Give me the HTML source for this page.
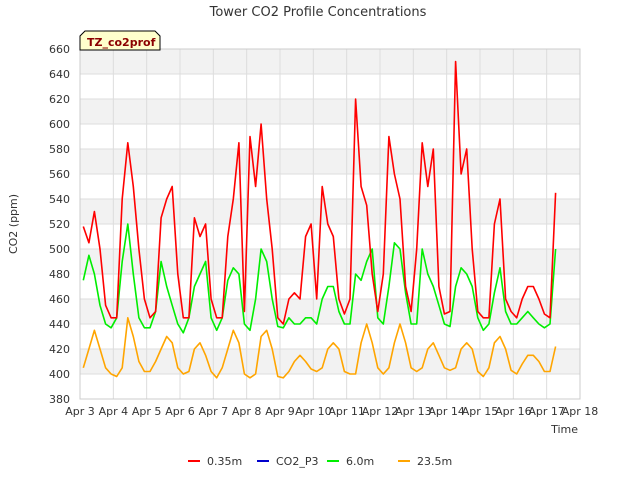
<!DOCTYPE html>
<html><head><meta charset="utf-8"><style>
body{margin:0;background:#fff;font-family:"DejaVu Sans","Liberation Sans",sans-serif;}
svg text{font-family:"DejaVu Sans","Liberation Sans",sans-serif;}
</style></head><body>
<svg id="c" width="640" height="480">
<text x="318" y="16" font-size="13" fill="#333" text-anchor="middle">Tower CO2 Profile Concentrations</text>
<text transform="translate(17,224) rotate(-90)" font-size="11" fill="#333" text-anchor="middle">CO2 (ppm)</text>
<text x="578" y="433" font-size="11" fill="#333" text-anchor="end">Time</text>
<g id="grid"></g><g id="series"></g>
<g>
<path d="M80,50 L80,36 L85,31 L155,31 L160,36 L160,50 Z" fill="#ffffcc" stroke="#000" stroke-width="1"/>
<text x="87" y="46" font-size="11" font-weight="bold" fill="#8b0000">TZ_co2prof</text></g>
<g id="legend"></g>
</svg>
<script>
const yTicks=[380,400,420,440,460,480,500,520,540,560,580,600,620,640,660];
const xLabels=["Apr 3","Apr 4","Apr 5","Apr 6","Apr 7","Apr 8","Apr 9","Apr 10","Apr 11","Apr 12","Apr 13","Apr 14","Apr 15","Apr 16","Apr 17","Apr 18"];
const seriesNames=["0.35m","CO2_P3","6.0m","23.5m"];
const seriesColors=["#ff0000","#0000cc","#00ee00","#ffa500"];
const red=[518,505,530,500,455,445, 445,540,585,550,500,460, 445,450,525,540,550,480, 445,445,525,510,520,460, 445,445,510,540,585,450, 590,550,600,540,500,445, 440,460,465,460,510,520, 460,550,520,510,460,448, 460,620,550,535,480,450, 480,590,560,540,470,450, 500,585,550,580,470,448, 450,650,560,580,500,450, 445,445,520,540,460,450, 445,460,470,470,460,448, 445,545];
const p3=[];
const green=[475,495,480,455,440,437, 445,490,520,480,445,437, 437,450,490,470,455,440, 433,445,470,480,490,445, 435,445,475,485,480,440, 435,460,500,490,460,438, 437,445,440,440,445,445, 440,460,470,470,450,440, 440,480,475,490,500,445, 440,470,505,500,465,440, 440,500,480,470,455,440, 438,470,485,480,470,445, 435,440,465,485,450,440, 440,445,450,445,440,437, 440,500];
const orange=[405,420,435,420,405,400, 398,405,445,430,410,402, 402,410,420,430,425,405, 400,402,420,425,415,402, 397,405,420,435,425,400, 397,400,430,435,420,398, 397,402,410,415,410,404, 402,405,420,425,420,402, 400,400,425,440,425,405, 400,405,425,440,425,405, 402,405,420,425,415,405, 403,405,420,425,420,402, 398,405,425,430,420,403, 400,408,415,415,410,402, 402,422];
const NS="http://www.w3.org/2000/svg";
const X0=80,X1=580,Y0=399,Y1=49;
const xs=d=>X0+d*(X1-X0)/15;
const ys=v=>Y0-(v-380)*(Y0-Y1)/280;
const g=document.getElementById('grid');
function mk(tag,at,p){const e=document.createElementNS(NS,tag);for(const k in at)e.setAttribute(k,at[k]);p.appendChild(e);return e;}
for(let i=0;i<yTicks.length-1;i++){ if(i%2===1){const r=mk('rect',{x:X0,y:ys(yTicks[i+1]),width:X1-X0,height:ys(yTicks[i])-ys(yTicks[i+1]),fill:'#f2f2f2'},g);

}}
yTicks.forEach(v=>{const l=mk('line',{x1:X0,x2:X1,y1:ys(v),y2:ys(v),stroke:'#ddd'},g);


const t=mk('text',{x:X0-10,y:ys(v)+4,'font-size':11,fill:'#333','text-anchor':'end'},g);t.textContent=v;

});
xLabels.forEach((s,i)=>{const l=mk('line',{x1:xs(i),x2:xs(i),y1:Y1,y2:Y0,stroke:'#ddd'},g);


const t=mk('text',{x:xs(i),y:Y0+16,'font-size':11,fill:'#333','text-anchor':'middle'},g);t.textContent=s;

});
mk('rect',{x:X0,y:Y1,width:X1-X0,height:Y0-Y1,fill:'none',stroke:'#ccc'},g);
const sg=document.getElementById('series');
[[green,2],[orange,3],[red,0]].forEach(([arr,ci])=>{
 const pts=arr.map((v,i)=>xs(0.1+i/6).toFixed(1)+','+ys(v).toFixed(1)).join(' ');
 const pl=mk('polyline',{points:pts,fill:'none',stroke:seriesColors[ci],'stroke-width':1.6,'stroke-linejoin':'round'},sg);
 
 
});
const lg=document.getElementById('legend');
const lx=[188,257,327,398];
seriesNames.forEach((n,i)=>{const gg=mk('g',{},lg);


mk('line',{x1:lx[i],x2:lx[i]+12,y1:461,y2:461,stroke:seriesColors[i],'stroke-width':2},gg);
const t=mk('text',{x:lx[i]+19,y:465,'font-size':11,fill:'#333'},gg);t.textContent=n;});
</script>
</body></html>
